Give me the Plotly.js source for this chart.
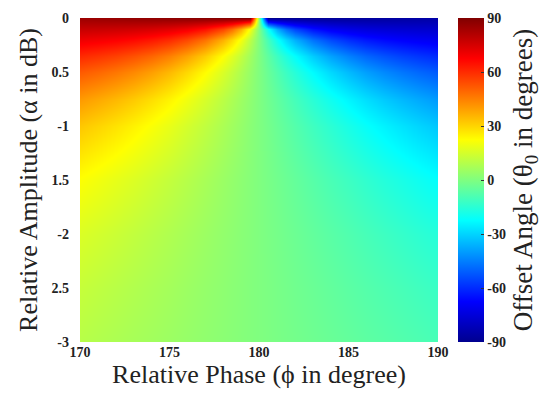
<!DOCTYPE html>
<html>
<head>
<meta charset="utf-8">
<script src="https://cdn.plot.ly/plotly-3.0.1.min.js"></script>
<style>html,body{margin:0;padding:0;background:#fff;}#chart{width:553px;height:394px;}</style>
</head>
<body>
<div id="chart"></div>
<script>
// Relative phase (degrees), x
var phase = [170,171,172,173,174,175,176,177,178,178.5,179,179.5,180,180.5,181,181.5,182,183,184,185,186,187,188,189,190];
// Relative amplitude (dB), y
var amplitude = [0,-0.1,-0.2,-0.35,-0.5,-0.75,-1,-1.5,-2,-2.5,-3];
// Offset angle (degrees) rows, one per amplitude, left half (170..180)
var row0   = [85,85.5,86,86.5,87,87.5,88,88.5,89,89.25,89.5,89.75,0];
var row01  = [77.5,77.2,76.6,75.8,74.6,72.7,69.8,64.8,55.6,47.9,36.7,20.5,0];
var row02  = [70.3,69.2,67.8,65.9,63.3,59.7,54.6,47.2,36.2,28.9,20.3,10.5,0];
var row035 = [60.3,58.4,56.1,53.1,49.5,44.8,38.9,31.5,22.4,17.3,11.7,5.9,0];
var row05  = [51.7,49.4,46.6,43.3,39.4,34.7,29.3,23.0,15.9,12.1,8.1,4.1,0];
var row075 = [40.5,37.9,35.1,31.9,28.3,24.4,20.1,15.4,10.5,7.9,5.3,2.7,0];
var row1   = [32.4,30.0,27.4,24.6,21.6,18.4,14.9,11.4,7.7,5.8,3.9,1.9,0];
var row15  = [22.1,20.2,18.2,16.2,14.0,11.8,9.6,7.2,4.8,3.6,2.4,1.2,0];
var row2   = [16.1,14.7,13.2,11.6,10.0,8.4,6.8,5.1,3.4,2.6,1.7,0.9,0];
var row25  = [12.4,11.2,10.0,8.8,7.6,6.4,5.1,3.8,2.6,1.9,1.3,0.6,0];
var row3   = [9.8,8.8,7.9,6.9,6.0,5.0,4.0,3.0,2.0,1.5,1.0,0.5,0];
var halfRows = [row0,row01,row02,row035,row05,row075,row1,row15,row2,row25,row3];
// right half (180.5..190) is the mirror with opposite sign
var z = halfRows.map(function(r){
  var right = r.slice(0, r.length-1).reverse().map(function(v){return -v;});
  return r.concat(right);
});
var yTickVals = [0,-0.5,-1,-1.5,-2,-2.5,-3];
var yTickText = ['0','0.5','-1','1.5','-2','2.5','-3'];
var xTickVals = [170,175,180,185,190];
var cbTickVals = [90,60,30,0,-30,-60,-90];
var cbTickText = ['90','60','30','0','-30','-60','-90'];

var jet = [[0,'rgb(0,0,143)'],[0.125,'rgb(0,0,255)'],[0.375,'rgb(0,255,255)'],[0.625,'rgb(255,255,0)'],[0.875,'rgb(255,0,0)'],[1,'rgb(128,0,0)']];
var serif = 'Liberation Serif, Times New Roman, serif';

var trace = {
  type:'heatmap', x: phase, y: amplitude, z: z,
  zmin:-90, zmax:90, zsmooth:'best', colorscale: jet, showscale:true,
  colorbar:{
    x:1.055, xanchor:'left', xpad:0, y:0.5, yanchor:'middle', len:1, lenmode:'fraction',
    thickness:26, thicknessmode:'pixels', outlinewidth:0, ypad:0,
    tickvals: cbTickVals, ticktext: cbTickText, ticks:'inside', ticklen:3, tickcolor:'#333',
    tickfont:{family:serif, size:14, color:'#222', weight:'bold'},
    title:{text:'Offset Angle (θ<sub>0</sub> in degrees)', side:'right', font:{family:serif, size:27, color:'#222'}}
  }
};
var layout = {
  width:553, height:394,
  margin:{l:80, r:111, t:18, b:52},
  paper_bgcolor:'#fff', plot_bgcolor:'#fff',
  xaxis:{range:[170,190], tickvals:xTickVals, ticks:'', showgrid:false, zeroline:false, showline:false,
    tickfont:{family:serif, size:14, color:'#222', weight:'bold'},
    title:{text:'Relative Phase (ϕ in degree)', font:{family:serif, size:26, color:'#222'}, standoff:0}},
  yaxis:{range:[-3,0], tickvals:yTickVals, ticktext:yTickText, ticks:'', showgrid:false, zeroline:false, showline:false,
    ticklabelstandoff:10,
    tickfont:{family:serif, size:14, color:'#222', weight:'bold'},
    title:{text:'Relative Amplitude (α in dB)', font:{family:serif, size:26, color:'#222'}, standoff:6}}
};
Plotly.newPlot('chart',[trace],layout,{displayModeBar:false, staticPlot:true});
</script>
</body>
</html>
